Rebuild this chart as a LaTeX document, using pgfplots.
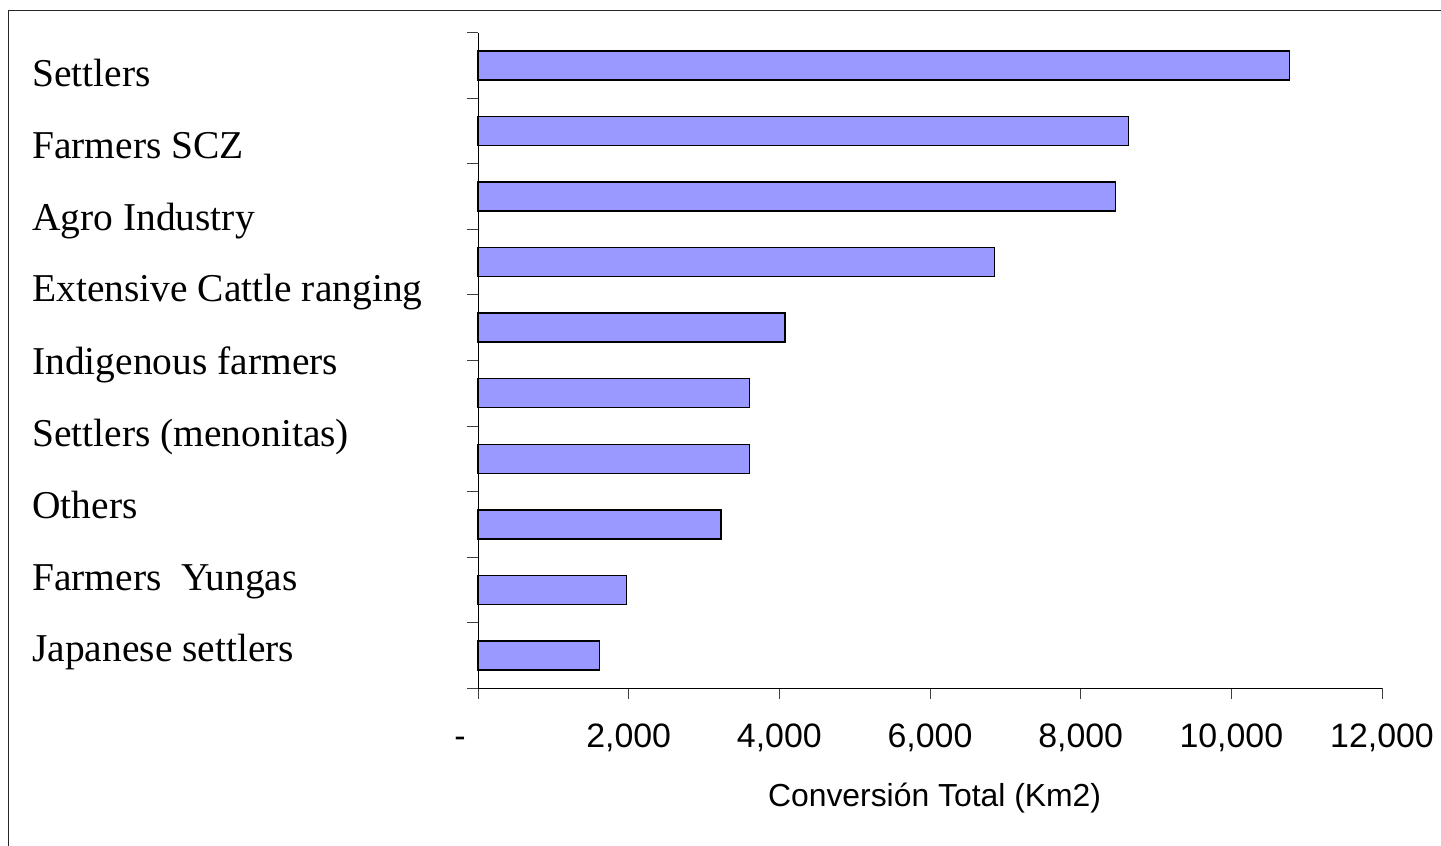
\documentclass[border=0pt]{standalone}
\usepackage{fontspec}
\setmainfont{Liberation Serif}
\newfontfamily\arial{Liberation Sans}
\usepackage{pgfplots}
\pgfplotsset{compat=1.18}
\definecolor{barblue}{RGB}{153,153,255}

\begin{document}
\begin{tikzpicture}
  \useasboundingbox (0,0) rectangle (720.5bp,-423bp);
  % chart area frame (open at right and bottom)
  \draw[line width=0.6bp, black!85] (4.2bp,-423bp) -- (4.2bp,-5.3bp) -- (720.5bp,-5.3bp);

  \begin{axis}[
    at={(239bp,-344bp)}, anchor=south west,
    scale only axis, width=452bp, height=327.5bp,
    xmin=0, xmax=12000, ymin=-0.5, ymax=9.5,
    axis x line=bottom, axis y line=left,
    axis line style={-, line width=0.5bp, black},
    scaled x ticks=false,
    xtick={0,2000,4000,6000,8000,10000,12000},
    xticklabels={{-\hspace*{18bp}},{2,000},{4,000},{6,000},{8,000},{10,000},{12,000}},
    ytick={-0.5,0.5,1.5,2.5,3.5,4.5,5.5,6.5,7.5,8.5,9.5},
    yticklabels={},
    tick align=outside, major tick length=5.5bp,
    tick style={line width=0.5bp, black!75},
    xticklabel style={font=\arial\fontsize{17}{20}\selectfont, anchor=base, yshift=-24bp},
    xlabel={Conversión Total (Km2)},
    every axis x label/.style={at={(axis description cs:0.5,0)}, anchor=base,
      xshift=2.3bp, yshift=-59bp, font=\arial\fontsize{16}{19}\selectfont},
    clip=false,
  ]
    \addplot[xbar, bar width=14.5bp, fill=barblue, draw=black, line width=0.75bp]
      coordinates {
        (1614,0)  % Japanese settlers
        (1969,1)
        (3226,2)
        (3605,3)
        (3605,4)
        (4075,5)
        (6854,6)
        (8460,7)
        (8637,8)
        (10774,9) % Settlers
      };
  \end{axis}

  % category names
  \begin{scope}[every node/.style={anchor=base west, inner sep=0pt,
      font=\fontsize{19.8}{23}\selectfont}]
    \node at (16bp,-43bp)    {Settlers};
    \node at (16bp,-79.2bp)  {Farmers SCZ};
    \node at (16bp,-115bp)   {Agro Industry};
    \node at (16bp,-150.9bp) {Extensive Cattle ranging};
    \node at (16bp,-187bp)   {Indigenous farmers};
    \node at (16bp,-223.4bp) {Settlers (menonitas)};
    \node at (16bp,-259.2bp) {Others};
    \node at (16bp,-295bp)   {Farmers\ \ Yungas};
    \node at (16bp,-330.9bp) {Japanese settlers};
  \end{scope}
\end{tikzpicture}
\end{document}
